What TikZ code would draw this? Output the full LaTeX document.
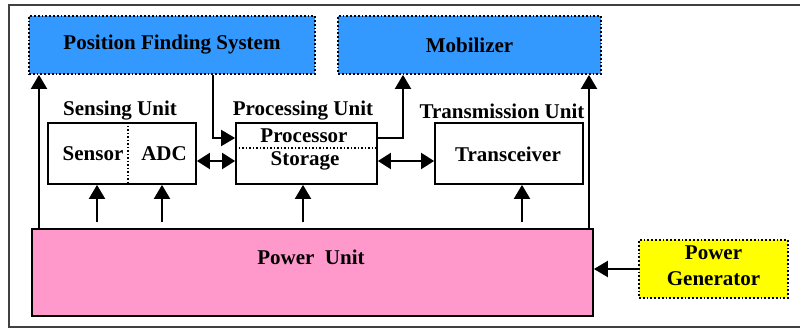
\documentclass[tikz,border=0pt]{standalone}
\usepackage{fontspec}
\setmainfont{Liberation Serif}
\usetikzlibrary{arrows.meta}
\definecolor{boxblue}{RGB}{51,153,255}
\definecolor{boxpink}{RGB}{255,153,204}
\definecolor{boxyellow}{RGB}{255,255,0}
\begin{document}
\begin{tikzpicture}[x=1pt,y=-1pt,
  every node/.style={font=\fontsize{21}{26}\selectfont\bfseries},
  solidbox/.style={draw, line width=1.8pt, rectangle, inner sep=0pt},
  dotbox/.style={draw, line width=1.8pt, dotted, rectangle, inner sep=0pt},
  txt/.style={inner sep=0pt},
  arr/.style={line width=2pt, -{Triangle[length=14pt,width=16pt]}},
  darr/.style={line width=2pt, {Triangle[length=13pt,width=16pt]}-{Triangle[length=13pt,width=16pt]}},
  sep/.style={line width=1.5pt, dotted}
]
\clip (0,0) rectangle (800,329);
\fill[white] (0,0) rectangle (800,329);
\draw[line width=1.8pt, black!75] (9,5) rectangle (830,327);

% boxes
\node[dotbox, fill=boxblue, minimum width=286pt, minimum height=58pt] (pfs) at (172,45) {};
\node[txt] at (pfs.center) {Position Finding System};
\node[dotbox, fill=boxblue, minimum width=263pt, minimum height=58pt] (mob) at (469.5,45) {};
\node[txt] at (mob.center) {Mobilizer};

\node[solidbox, minimum width=148pt, minimum height=61pt] (sens) at (122,153.5) {};
\node[solidbox, minimum width=141pt, minimum height=61pt] (proc) at (306.5,153.5) {};
\node[solidbox, minimum width=148pt, minimum height=61pt] (trans) at (509,153.5) {};

\node[txt] (lsens) at (120,111) {Sensing Unit};
\node[txt] (lproc) at (303,111) {Processing Unit};
\node[txt] (ltrans) at (502,111) {Transmission Unit};

\node[txt] (tsensor) at (93,154) {Sensor};
\node[txt] (tadc) at (164,154) {ADC};
\node[txt] (tprocessor) at (304,136) {Processor};
\node[txt] (tstorage) at (305,161) {Storage};
\node[txt] (ttrans) at (508,154) {Transceiver};

\node[solidbox, fill=boxpink, minimum width=561pt, minimum height=87pt] (power) at (312.5,272.5) {};
\node[txt] (tpower) at (311,257) {Power\ \ Unit};

\node[dotbox, fill=boxyellow, minimum width=149pt, minimum height=58pt] (gen) at (713.5,269) {};
\node[txt, align=center] (tgen) at (713.5,266) {Power\\Generator};

% separators
\coordinate (sx) at (128,0);
\coordinate (py) at (0,148);
\draw[sep] (sens.north -| sx) -- (sens.south -| sx);
\draw[sep] (proc.west |- py) -- (proc.east |- py);

% helper coordinates
\coordinate (lx) at (39,0);
\coordinate (a1) at (97,0);
\coordinate (a2) at (162,0);
\coordinate (a3) at (303,0);
\coordinate (a4) at (522,0);
\coordinate (rx) at (589,0);
\coordinate (dx) at (213,0);
\coordinate (mx) at (403,0);
\coordinate (row) at (0,138);
\coordinate (dy) at (0,161);

% arrows
\draw[arr] (power.north -| lx) -- (pfs.south -| lx);
\draw[arr] (power.north -| rx) -- (mob.south -| rx);
\draw[arr, shorten <=6pt] (power.north -| a1) -- (sens.south -| a1);
\draw[arr, shorten <=6pt] (power.north -| a2) -- (sens.south -| a2);
\draw[arr, shorten <=6pt] (power.north -| a3) -- (proc.south -| a3);
\draw[arr, shorten <=6pt] (power.north -| a4) -- (trans.south -| a4);
\draw[arr] (pfs.south -| dx) |- (proc.west |- row);
\draw[arr] (proc.east |- row) -| (mob.south -| mx);
\draw[darr] (sens.east |- dy) -- (proc.west |- dy);
\draw[darr] (proc.east |- dy) -- (trans.west |- dy);
\draw[arr] (gen.west) -- (power.east |- gen.west);
\end{tikzpicture}
\end{document}
